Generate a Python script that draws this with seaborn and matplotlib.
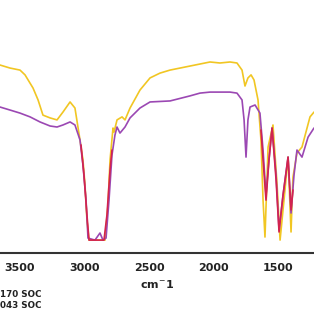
import matplotlib
matplotlib.use("Agg")
import matplotlib.pyplot as plt
import seaborn as sns

# wavenumbers (cm-1) and transmittance-like values
yellow_wn = [3655, 3577, 3500, 3461, 3399, 3360, 3322, 3267, 3213, 3167, 3112, 3074, 3035,
             3012, 2996, 2981, 2965, 2841, 2818, 2802, 2779, 2771, 2748, 2709, 2686, 2647,
             2570, 2492, 2415, 2337, 2182, 2027, 1950, 1872, 1818, 1779, 1756, 1733, 1709,
             1686, 1655, 1632, 1616, 1601, 1577, 1539, 1508, 1484, 1446, 1422, 1399, 1384,
             1353, 1314, 1252, 1221]
yellow_t = [74.3, 73.1, 72.3, 70.4, 65.2, 60.5, 54.5, 53.4, 52.6, 55.7, 59.7, 57.3, 44.7,
            36.8, 26.9, 13.0, 5.1, 5.1, 19.0, 36.8, 49.4, 47.8, 52.6, 53.8, 52.6, 57.3,
            64.4, 69.2, 71.1, 72.3, 73.9, 75.5, 75.1, 75.5, 75.1, 72.3, 66.0, 69.2, 70.4,
            68.4, 60.5, 44.7, 20.9, 6.3, 41.9, 50.6, 27.7, 5.1, 24.9, 37.9, 8.3, 30.0,
            39.5, 41.9, 53.8, 55.7]

purple_wn = [3655, 3577, 3500, 3422, 3345, 3267, 3213, 3167, 3112, 3074, 3035, 3012, 2988,
             2973, 2919, 2880, 2857, 2833, 2810, 2787, 2764, 2748, 2725, 2686, 2647, 2570,
             2492, 2337, 2182, 2105, 2027, 1872, 1818, 1779, 1763, 1748, 1733, 1717, 1678,
             1640, 1616, 1593, 1570, 1546, 1515, 1492, 1461, 1422, 1399, 1376, 1353, 1314,
             1267, 1221]
purple_t = [57.7, 56.5, 55.3, 53.8, 51.8, 50.2, 49.8, 50.6, 51.8, 50.6, 44.7, 34.8, 20.9,
            5.9, 5.1, 7.9, 5.1, 5.9, 20.9, 38.7, 46.6, 49.8, 47.4, 49.8, 53.4, 57.3,
            59.7, 60.1, 62.1, 63.2, 63.6, 63.6, 63.2, 60.5, 52.6, 37.9, 52.6, 57.7, 58.5,
            55.3, 40.7, 22.9, 36.8, 49.4, 30.8, 9.1, 22.9, 37.9, 15.8, 30.8, 40.7, 37.9,
            45.8, 49.4]

# red trace only shows in the deep bands
red_ch_wn = [3027, 3004, 2981, 2965, 2849, 2826, 2802, 2787]
red_ch_t = [42.7, 30.8, 15.0, 5.1, 5.1, 15.0, 32.8, 40.7]
red_fp_wn = [1632, 1616, 1593, 1570, 1546, 1515, 1492, 1461, 1422, 1399, 1384]
red_fp_t = [48.6, 36.8, 20.9, 36.8, 49.4, 28.9, 8.3, 22.9, 37.9, 17.0, 24.9]

tick_vals = [3500, 3000, 2500, 2000, 1500]
legend_labels = ["170 SOC", "043 SOC"]

sns.set_style("white")
plt.rcParams["font.family"] = ["DejaVu Sans"]

fig = plt.figure(figsize=(3.14, 3.16), dpi=100)
ax = fig.add_axes([0, 1 - 253 / 316, 1, 253 / 316])

sns.lineplot(x=yellow_wn, y=yellow_t, sort=False, estimator=None, color="#f1c623", lw=1.2, ax=ax)
sns.lineplot(x=purple_wn, y=purple_t, sort=False, estimator=None, color="#9b48b3", lw=1.2, ax=ax)
sns.lineplot(x=red_ch_wn, y=red_ch_t, sort=False, estimator=None, color="#d3234e", lw=1.2, ax=ax)
sns.lineplot(x=red_fp_wn, y=red_fp_t, sort=False, estimator=None, color="#d3234e", lw=1.2, ax=ax)

ax.set_xlim(3655, 1221)
ax.set_ylim(0, 100)
ax.set_xticks(tick_vals)
ax.set_xticklabels([str(v) for v in tick_vals], fontsize=8, fontweight="bold", color="#222222")
ax.set_yticks([])
ax.tick_params(axis="x", direction="out", length=4, width=1.3, color="#333333", pad=3)
for s in ["left", "right", "top"]:
    ax.spines[s].set_visible(False)
ax.spines["bottom"].set_color("#333333")
ax.spines["bottom"].set_linewidth(1.5)
ax.set_xlabel(r"cm$^{-}$1", fontsize=8, fontweight="bold", color="#222222", labelpad=4)
ax.set_ylabel("")

fig.text(0.0, 1 - 297 / 316, legend_labels[0], fontsize=6.3, fontweight="bold", color="#222222", va="baseline")
fig.text(0.0, 1 - 308 / 316, legend_labels[1], fontsize=6.3, fontweight="bold", color="#222222", va="baseline")

fig.savefig("out.png", dpi=100)
